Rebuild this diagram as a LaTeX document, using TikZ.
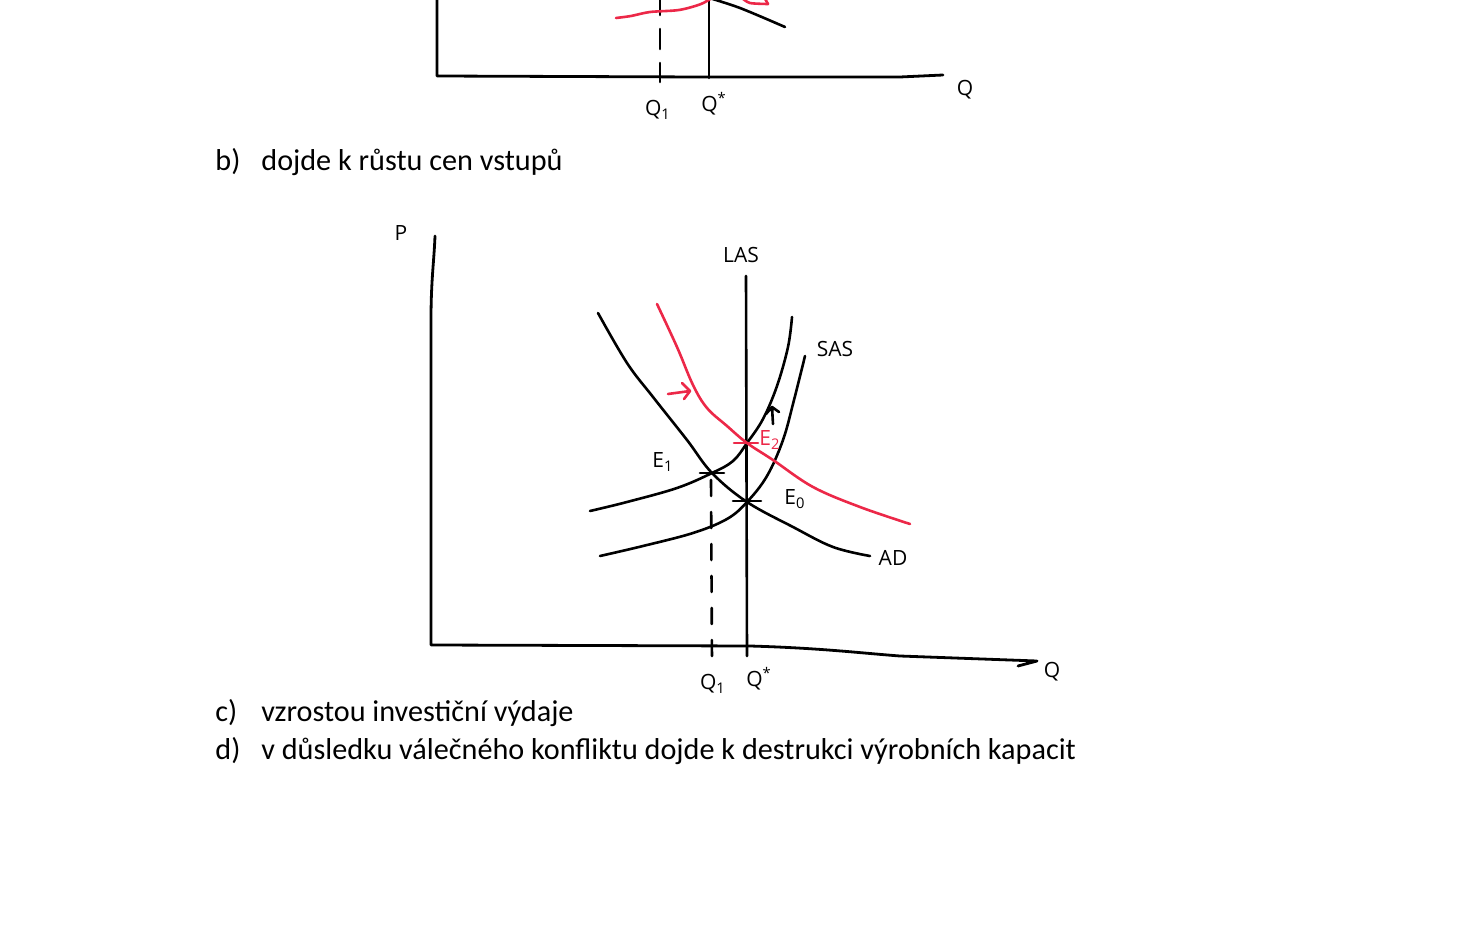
\documentclass[tikz,border=0pt]{standalone}
\usepackage{fontspec}
\setmainfont{Carlito}
\newfontfamily\hand{Open Sans}
\definecolor{hred}{RGB}{236,40,72}
\begin{document}
\begin{tikzpicture}[x=0.5pt,y=-0.5pt, line cap=round, line join=round,
  curve/.style={line width=1.3pt},
  redc/.style={curve, draw=hred},
  axisline/.style={line width=1.4pt},
  lbl/.style={font=\hand\fontsize{10.5}{10.5}\selectfont, inner sep=0pt},
  txt/.style={font=\fontsize{15.1}{18}\selectfont, anchor=base west, inner sep=0pt}]
\useasboundingbox (0,0) rectangle (1468,936);
\begin{scope}
\clip (0,0) rectangle (1468,936);
% ---------- top partial diagram ----------
\coordinate (tyTop) at (437,-5);
\coordinate (tO) at (437,76);
\coordinate (txEnd) at (943,75);
\draw[axisline] (tyTop) -- (tO) -- (700,77) -- (900,77) -- (txEnd);
\coordinate (tdTop) at (660,-5);
\coordinate (tdBot) at (660,82);
\draw[curve, dash pattern=on 10pt off 7pt] (tdTop) -- (tdBot);
\coordinate (tsTop) at (709,-5);
\coordinate (tsBot) at (709,78);
\draw[curve] (tsTop) -- (tsBot);
\draw[redc] plot[smooth] coordinates {(616,18) (631,16) (650,12) (679,10) (701,4) (715,-4)};
\draw[curve] plot[smooth] coordinates {(706,-3) (740,8) (785,27)};
\draw[redc] plot[smooth] coordinates {(742,-2) (750,3) (768,4)};
\draw[redc] (764,-3) -- (768,4);
\node[lbl] (tQ1) at (658,110) {Q\textsubscript{1}};
\node[lbl] (tQs) at (714,104) {Q\textsuperscript{*}};
\node[lbl] (tQ) at (965,90) {Q};
\end{scope}
% ---------- texts ----------
\node[txt] (tb) at (215,171) {b)};
\node[txt] (tbt) at (261,171) {dojde k růstu cen vstupů};
\node[txt] (tc) at (215,721) {c)};
\node[txt] (tct) at (261,721) {vzrostou investiční výdaje};
\node[txt] (td) at (215,759) {d)};
\node[txt] (tdt) at (261,759) {v důsledku válečného konfliktu dojde k destrukci výrobních kapacit};
% ---------- main diagram ----------
\coordinate (yTop) at (435,236);
\coordinate (O) at (431,645);
\coordinate (xEnd) at (1037,661);
\coordinate (barb) at (1018,666);
\draw[axisline] (yTop) .. controls (434,262) and (431,280) .. (431,320) -- (O)
  -- (750,646) .. controls (820,648) and (860,653) .. (900,656) -- (xEnd) -- (barb);
\node[lbl] (P) at (401,233) {P};
\node[lbl] (Q) at (1052,672) {Q};
% LAS
\coordinate (lasTop) at (746,276);
\coordinate (lasBot) at (747,656);
\draw[curve] (lasTop) -- (lasBot);
\node[lbl] (LAS) at (741,255) {LAS};
% dashed Q1
\coordinate (dTop) at (711,480);
\coordinate (dBot) at (712,662);
\draw[curve, dash pattern=on 8pt off 8pt] (dTop) -- (dBot);
\node[lbl] (Q1) at (713,684) {Q\textsubscript{1}};
\node[lbl] (Qs) at (759,679) {Q\textsuperscript{*}};
% AD
\draw[curve] plot[smooth, tension=0.6] coordinates {(598,313) (627,363) (653,397) (687,440) (712,473) (747,502) (793,527) (833,547) (870,556)};
\node[lbl] (AD) at (893,558) {AD};
% SAS original
\draw[curve] plot[smooth, tension=0.6] coordinates {(600,556) (643,546) (693,533) (727,519) (747,502) (767,476) (783,440) (794,400) (805,356)};
% SAS shifted
\draw[curve] plot[smooth, tension=0.6] coordinates {(590,511) (627,502) (677,488) (712,473) (733,461) (747,443) (763,419) (777,386) (788,347) (792,317)};
\node[lbl] (SAS) at (835,349) {SAS};
% AD red
\draw[redc] plot[smooth, tension=0.6] coordinates {(657,304) (677,347) (693,385) (707,408) (727,426) (747,443) (773,460) (813,487) (860,507) (910,524)};
% arrows
\coordinate (raS) at (668,394);
\coordinate (raE) at (690,391);
\draw[redc] (raS) -- (raE) (682,383) -- (raE) -- (684,399);
\coordinate (baS) at (773,424);
\coordinate (baE) at (772,407);
\draw[curve] (baS) -- (baE) (766,414) -- (baE) -- (779,412);
% equilibrium marks
\coordinate (E1) at (712,473);
\coordinate (E0) at (747,501);
\coordinate (E2) at (746,443);
\draw[curve] ([xshift=-6]E1) -- ([xshift=6]E1);
\draw[curve] ([xshift=-7]E0) -- ([xshift=7]E0);
\draw[redc] ([xshift=-6]E2) -- ([xshift=6]E2);
\node[lbl] (E1l) at (663,462) {E\textsubscript{1}};
\node[lbl, text=hred] (E2l) at (770,440) {E\textsubscript{2}};
\node[lbl] (E0l) at (795,499) {E\textsubscript{0}};
\end{tikzpicture}
\end{document}
